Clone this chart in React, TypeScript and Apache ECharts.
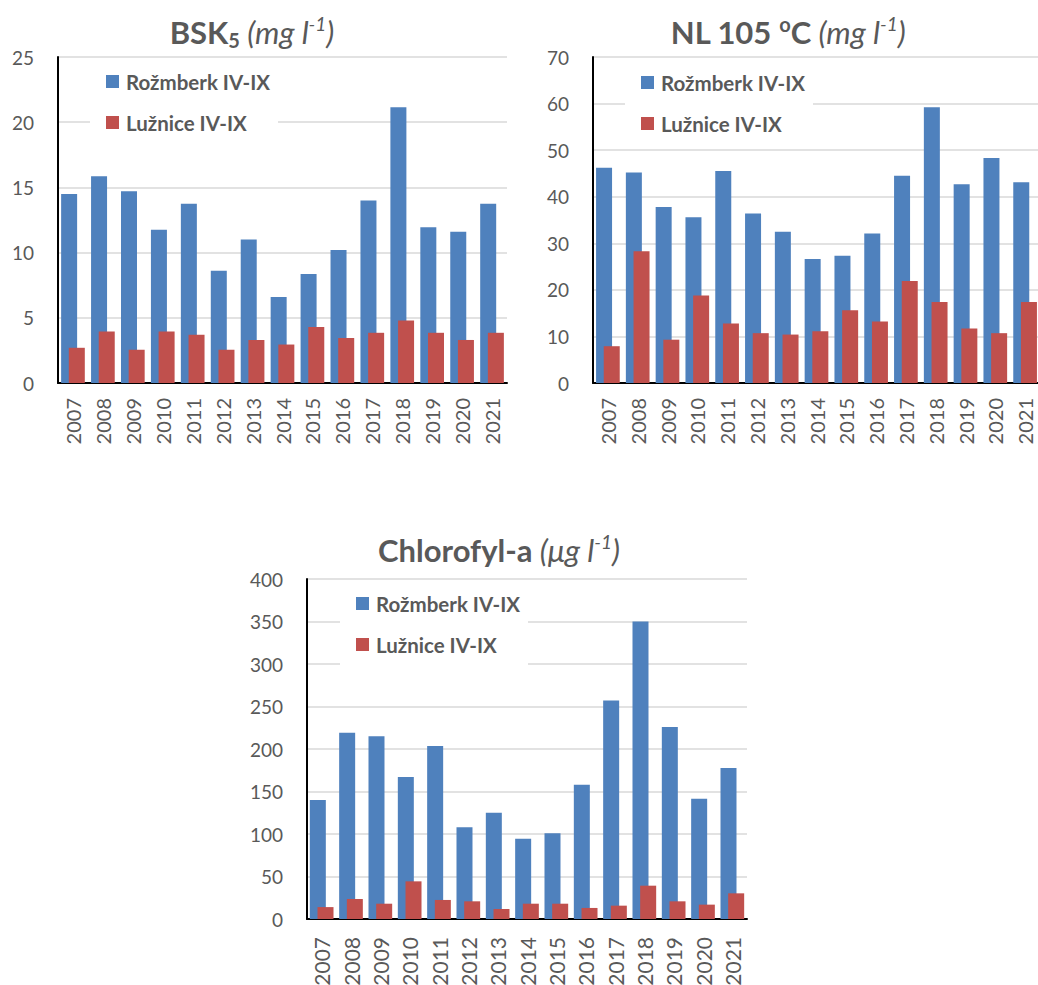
import React, { useEffect, useRef } from "react";
import * as echarts from "echarts";

const years = ["2007","2008","2009","2010","2011","2012","2013","2014","2015","2016","2017","2018","2019","2020","2021"];
const seriesNames = ["Rožmberk IV-IX", "Lužnice IV-IX"];

const bskRozmberk = [14.5, 15.85, 14.7, 11.75, 13.75, 8.6, 11.0, 6.6, 8.35, 10.2, 14.0, 21.15, 11.95, 11.6, 13.75];
const bskLuznice = [2.7, 3.95, 2.55, 3.95, 3.7, 2.55, 3.3, 2.95, 4.3, 3.45, 3.85, 4.8, 3.85, 3.3, 3.85];

const nlRozmberk = [46.2, 45.2, 37.8, 35.6, 45.5, 36.4, 32.5, 26.6, 27.3, 32.1, 44.5, 59.2, 42.7, 48.3, 43.1];
const nlLuznice = [7.9, 28.3, 9.3, 18.8, 12.8, 10.7, 10.4, 11.1, 15.6, 13.2, 21.9, 17.4, 11.7, 10.7, 17.4];

const chlRozmberk = [140, 219, 215, 167, 203.5, 108, 125, 94.5, 101, 158, 257, 350, 226, 141.5, 177.6];
const chlLuznice = [14, 23.5, 18, 44.3, 22.4, 20.8, 11.8, 18, 18, 13, 15.7, 39.2, 20.8, 16.9, 30.2];

const yMax = [25, 70, 400];
const yInterval = [5, 10, 50];

const BLUE = "#4F81BD";
const RED = "#C0504D";
const GRAY = "#595959";
const FONT = "Lato";

const titleRich = {
  b: { fontFamily: FONT, fontWeight: "bold", fontSize: 31, color: GRAY, lineHeight: 36 },
  bs: { fontFamily: FONT, fontWeight: "bold", fontSize: 20, color: GRAY, lineHeight: 24, verticalAlign: "bottom" },
  bsup: { fontFamily: FONT, fontWeight: "bold", fontSize: 20, color: GRAY, lineHeight: 24, verticalAlign: "top" },
  i: { fontFamily: FONT, fontStyle: "italic", fontWeight: "normal", fontSize: 31, color: GRAY, lineHeight: 36 },
  sup: { fontFamily: FONT, fontStyle: "italic", fontWeight: "normal", fontSize: 19, color: GRAY, lineHeight: 22, verticalAlign: "top" },
};

export default function App() {
  const ref = useRef<HTMLDivElement>(null);
  useEffect(() => {
    if (!ref.current) return;
    const chart = echarts.init(ref.current, null, { renderer: "svg" });
    const grids = [
      { left: 58, top: 57, width: 449, height: 326, outerBoundsMode: "none", containLabel: false },
      { left: 593, top: 57, width: 447, height: 326, outerBoundsMode: "none", containLabel: false },
      { left: 307, top: 579, width: 440, height: 340, outerBoundsMode: "none", containLabel: false },
    ];
    const xMargins = [15, 15, 18];
    const xFont = [20, 20, 21];
    const xAxes = grids.map((_, i) => ({
      type: "category",
      gridIndex: i,
      data: years,
      axisLine: { show: true, lineStyle: { color: "#000", width: 2 } },
      axisTick: { show: false },
      axisLabel: { rotate: 90, margin: xMargins[i], color: GRAY, fontFamily: FONT, fontSize: xFont[i] },
    }));
    const yAxes = grids.map((_, i) => ({
      type: "value",
      gridIndex: i,
      min: 0,
      max: yMax[i],
      interval: yInterval[i],
      axisLine: { show: true, lineStyle: { color: "#000", width: 2 } },
      axisTick: { show: false },
      splitLine: { lineStyle: { color: "#d9d9d9", width: 1.5 } },
      axisLabel: { margin: 24, color: GRAY, fontFamily: FONT, fontSize: 19 },
    }));
    const datasets = [
      [bskRozmberk, bskLuznice],
      [nlRozmberk, nlLuznice],
      [chlRozmberk, chlLuznice],
    ];
    const series: any[] = [];
    datasets.forEach((pair, i) => {
      pair.forEach((vals, j) => {
        series.push({
          type: "bar",
          name: seriesNames[j],
          xAxisIndex: i,
          yAxisIndex: i,
          data: vals,
          barWidth: 16,
          barGap: "-52%",
          itemStyle: { color: j === 0 ? BLUE : RED },
        });
      });
    });
    const legendPos = [
      { left: 90, top: 61 },
      { left: 625, top: 62 },
      { left: 340, top: 583 },
    ];
    const legends = legendPos.map((p) => ({
      data: seriesNames,
      orient: "vertical",
      left: p.left,
      top: p.top,
      itemWidth: 13,
      itemHeight: 13,
      itemGap: 20,
      icon: "rect",
      backgroundColor: "#fff",
      padding: [10, 8, 10, 16],
      selectedMode: false,
      textStyle: { fontFamily: FONT, fontWeight: "bold", fontSize: 20.5, lineHeight: 20, color: GRAY, padding: [0, 0, 0, 2] },
    }));
    const titles = [
      { left: 247, top: 9, text: "{b|BSK}{bs|5}{i| (mg l}{sup|-1}{i|)}" },
      { left: 783, top: 9, text: "{b|NL 105 }{bsup|o}{b|C}{i| (mg l}{sup|-1}{i|)}" },
      { left: 494, top: 527, text: "{b|Chlorofyl-a}{i| (μg l}{sup|-1}{i|)}" },
    ].map((t) => ({
      text: t.text,
      left: t.left,
      top: t.top,
      textAlign: "center",
      textStyle: { rich: titleRich },
    }));
    chart.setOption({
      animation: false,
      backgroundColor: "#fff",
      title: titles,
      legend: legends,
      grid: grids,
      xAxis: xAxes,
      yAxis: yAxes,
      series,
    });
    return () => chart.dispose();
  }, []);
  return (
    <div
      ref={ref}
      style={{ position: "absolute", left: 0, top: 0, width: 1038, height: 985 }}
    />
  );
}
